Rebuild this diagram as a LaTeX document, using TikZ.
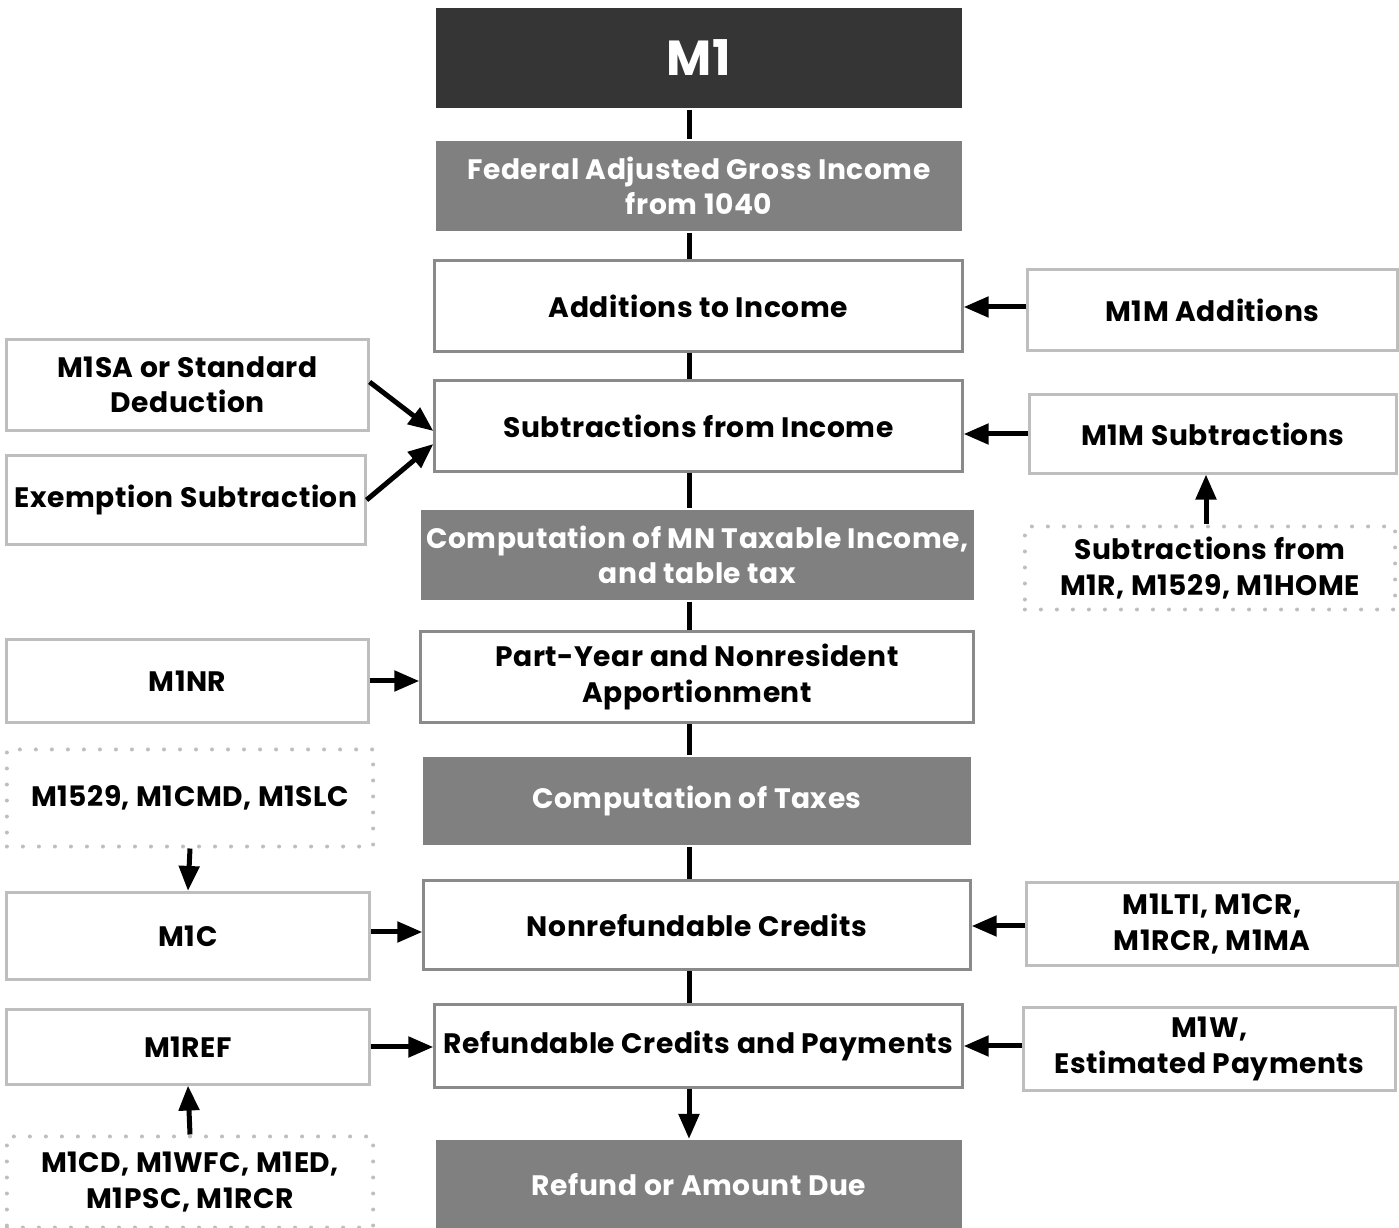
\documentclass[tikz,border=0pt]{standalone}
\usepackage{fontspec}
\setmainfont{Poppins}[LetterSpace=2.0]
\usetikzlibrary{arrows.meta}

\definecolor{darkfill}{HTML}{353535}
\definecolor{midfill}{HTML}{808080}
\definecolor{mainline}{HTML}{8A8A8A}
\definecolor{sideline}{HTML}{BEBEBE}

\tikzset{
  mainbox/.style={draw=mainline, line width=0.03cm, fill=white, align=center, inner sep=0pt,
    font=\bfseries\fontsize{8}{10}\selectfont},
  greybox/.style={mainbox, draw=none, fill=midfill, text=white},
  sidebox/.style={mainbox, draw=sideline},
  dotbox/.style={mainbox, draw=sideline, line width=0.04cm, dash pattern=on 0pt off 0.16cm, line cap=round},
  feed/.style={line width=0.05cm, -{Triangle[length=0.25cm,width=0.2cm]}},
  spine/.style={line width=0.05cm},
}

\begin{document}
\begin{tikzpicture}[x=0.01cm,y=-0.01cm]
\useasboundingbox (0,0) rectangle (1399,1228);

% middle column
\path (699,58) node[greybox, fill=darkfill, minimum width=5.26cm, minimum height=1cm, font=\bfseries\fontsize{14}{18}\selectfont](m1){M1}
 (699,186) node[greybox, minimum width=5.26cm, minimum height=0.9cm](agi){Federal Adjusted Gross Income\\from 1040}
 (698.5,306) node[mainbox, minimum width=5.27cm, minimum height=0.9cm](add){Additions to Income}
 (698.5,426) node[mainbox, minimum width=5.27cm, minimum height=0.9cm](sub){Subtractions from Income}
 (697.5,555) node[greybox, minimum width=5.53cm, minimum height=0.9cm](mntax){Computation of MN Taxable Income,\\and table tax}
 (697,677) node[mainbox, minimum width=5.52cm, minimum height=0.9cm](part){Part-Year and Nonresident\\Apportionment}
 (697,801) node[greybox, minimum width=5.48cm, minimum height=0.88cm](comptax){Computation of Taxes}
 (697,925) node[mainbox, minimum width=5.46cm, minimum height=0.89cm](nonref){Nonrefundable Credits}
 (698.5,1046) node[mainbox, minimum width=5.27cm, minimum height=0.82cm](refcred){Refundable Credits and Payments}
 (699,1185) node[greybox, minimum width=5.26cm, minimum height=0.89cm](due){Refund or Amount Due};

% left column
\path (187.5,385) node[sidebox, minimum width=3.61cm, minimum height=0.9cm](msa){M1SA or Standard\\Deduction}
 (186,500) node[sidebox, minimum width=3.58cm, minimum height=0.89cm](exem){Exemption Subtraction}
 (187.5,681) node[sidebox, minimum width=3.61cm, minimum height=0.82cm](mnr){M1NR}
 (190,798) node[dotbox, minimum width=3.66cm, minimum height=0.97cm](mcmd){M1529, M1CMD, M1SLC}
 (188,936) node[sidebox, minimum width=3.62cm, minimum height=0.87cm](mc){M1C}
 (188,1047) node[sidebox, minimum width=3.62cm, minimum height=0.74cm](mref){M1REF}
 (190,1182) node[dotbox, minimum width=3.66cm, minimum height=0.91cm](mcd){M1CD, M1WFC, M1ED,\\M1PSC, M1RCR};

% right column
\path (1212.5,310) node[sidebox, minimum width=3.69cm, minimum height=0.8cm](mmadd){M1M Additions}
 (1213,434) node[sidebox, minimum width=3.66cm, minimum height=0.78cm](mmsub){M1M Subtractions}
 (1210,568) node[dotbox, minimum width=3.7cm, minimum height=0.83cm](mhome){Subtractions from\\M1R, M1529, M1HOME}
 (1212,924) node[sidebox, minimum width=3.7cm, minimum height=0.82cm](mlti){M1LTI, M1CR,\\M1RCR, M1MA}
 (1209.5,1049) node[sidebox, minimum width=3.71cm, minimum height=0.82cm](mw){M1W,\\Estimated Payments};

% spine
\coordinate (sx) at (689,0);
\foreach \a/\b in {m1/agi,agi/add,add/sub,sub/mntax,mntax/part,part/comptax,comptax/nonref,nonref/refcred}
  \draw[spine] (\a.south -| sx) -- (\b.north -| sx);
\draw[feed] (refcred.south -| sx) -- (due.north -| sx);

% feeds into the middle column
\draw[feed] (mmadd.west) ++(0,-3) coordinate(t1) -- (t1 -| add.east);
\draw[feed] ([yshift=0.03cm]msa.east) -- ([yshift=-0.05cm]sub.west);
\draw[feed] (exem.east) -- ([yshift=-0.18cm]sub.west);
\draw[feed] (mmsub.west) -- (mmsub.west -| sub.east);
\draw[feed] (mhome.north -| 1206,0) -- (mmsub.south -| 1206,0);
\draw[feed] (mnr.east) -- (mnr.east -| part.west);
\draw[feed] (mcmd.south) -- (mc.north);
\draw[feed] (mc.east) ++(0,-4) coordinate(t2) -- (t2 -| nonref.west);
\draw[feed] (mlti.west) ++(0,2) coordinate(t3) -- (t3 -| nonref.east);
\draw[feed] (mref.east) -- (mref.east -| refcred.west);
\draw[feed] (mw.west) ++(0,-3) coordinate(t4) -- (t4 -| refcred.east);
\draw[feed] (mcd.north) -- (mref.south);
\end{tikzpicture}
\end{document}
